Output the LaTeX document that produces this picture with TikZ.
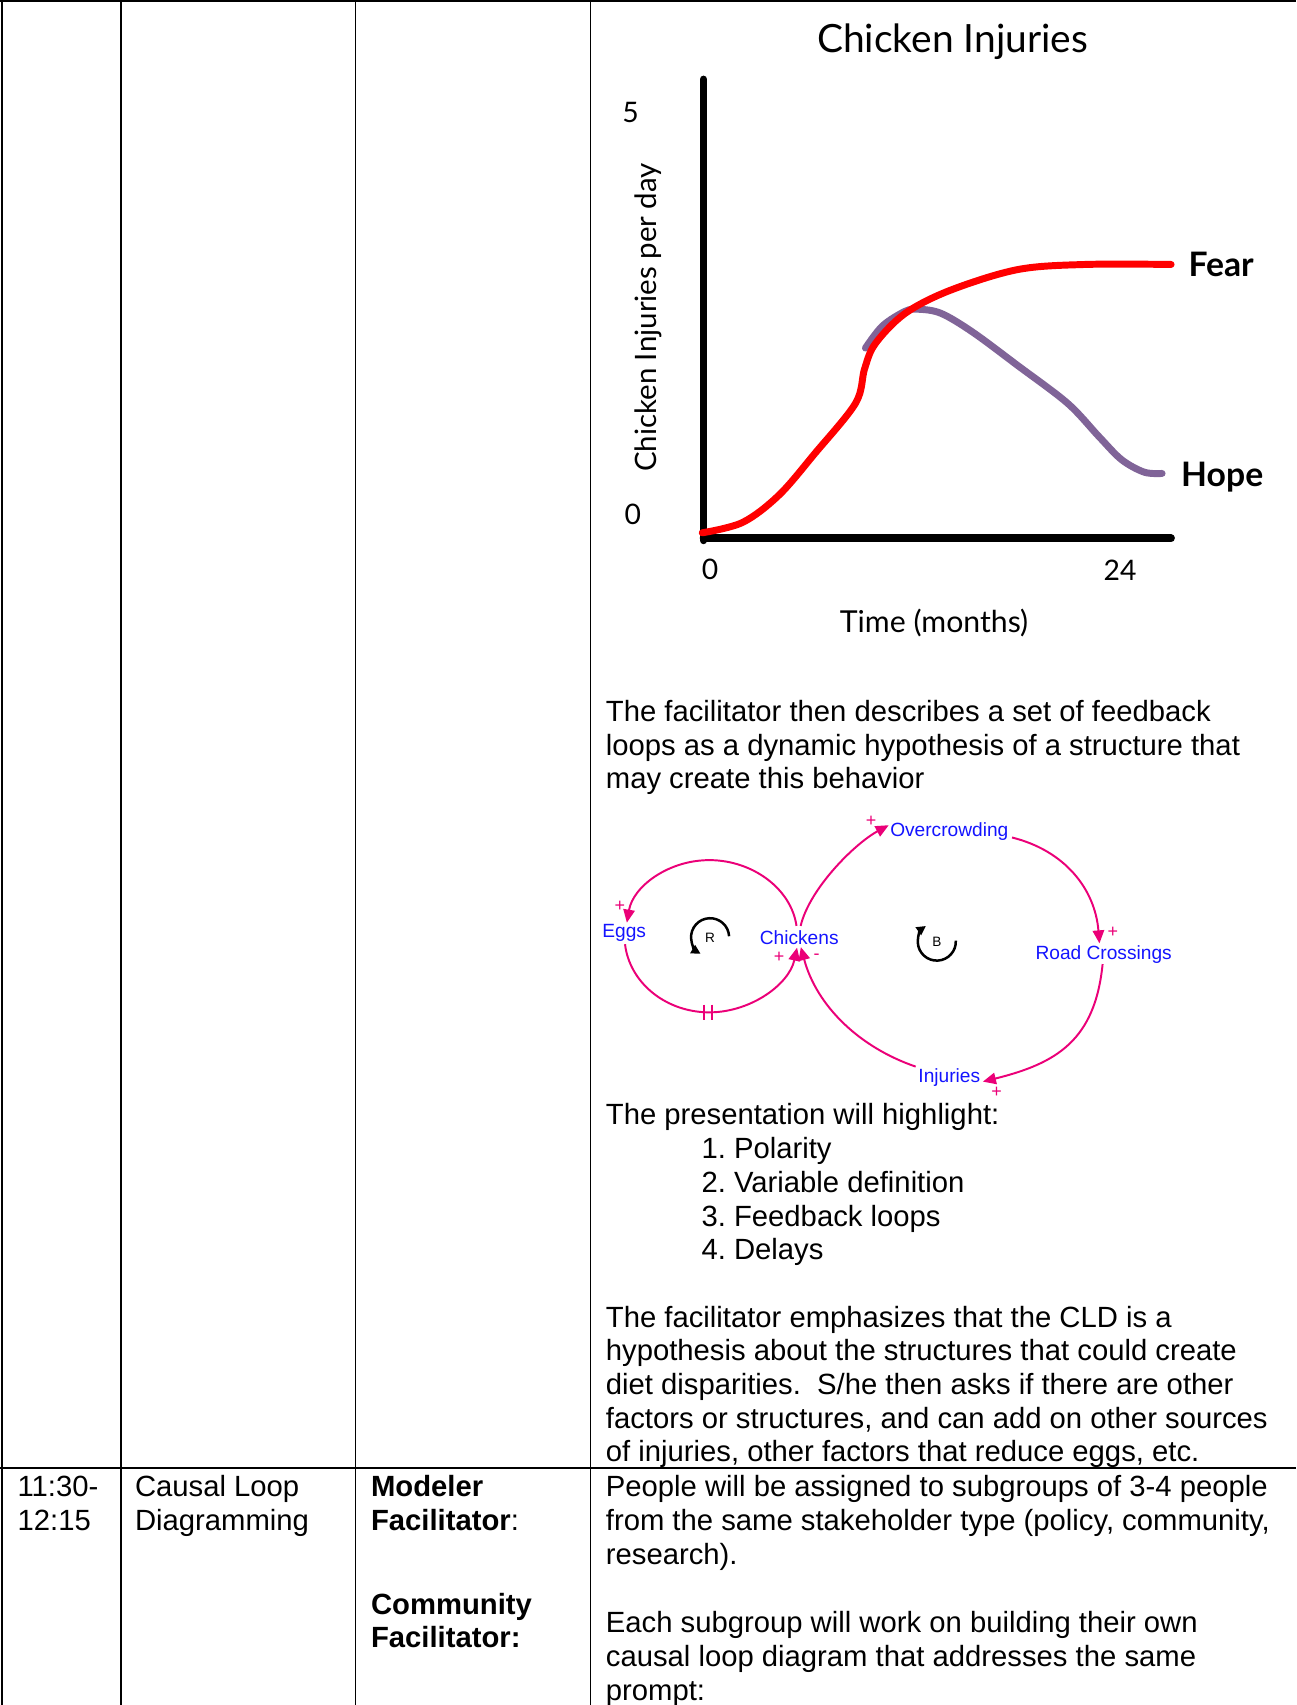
\documentclass[tikz,border=0pt]{standalone}
\usepackage{fontspec}
\setmainfont{Liberation Sans}
\newfontfamily\chartfont{Lato}
\usetikzlibrary{arrows.meta}
\definecolor{linkpink}{RGB}{235,0,120}
\definecolor{varblue}{RGB}{20,20,255}
\definecolor{hopepurple}{RGB}{128,100,152}
\definecolor{fearred}{RGB}{255,0,0}
\begin{document}
\begin{tikzpicture}[x=1pt,y=-1pt,
  body/.style={anchor=base west, inner sep=0pt, font=\fontsize{26.9}{31}\selectfont\frenchspacing},
  bodyb/.style={anchor=base west, inner sep=0pt, font=\fontsize{26.9}{31}\selectfont\bfseries\frenchspacing},
  rule/.style={line width=1.6pt, black},
  axis/.style={line width=7pt, line cap=round},
  chartlbl/.style={inner sep=0pt, font=\chartfont\fontsize{26}{30}\selectfont},
  chartbold/.style={inner sep=0pt, font=\chartfont\bfseries\fontsize{31}{34}\selectfont},
  var/.style={inner sep=0pt, text=varblue, font=\fontsize{17.6}{20}\selectfont},
  link/.style={draw=linkpink, line width=1.8pt, -{Triangle[length=12pt,width=10.5pt]}},
  pol/.style={inner sep=0pt, text=linkpink, font=\fontsize{16.5}{18}\selectfont},
  loopsym/.style={line width=2.3pt, -{Triangle[length=8.5pt,width=8.5pt]}},
  looplbl/.style={inner sep=0pt, font=\fontsize{12.5}{14}\selectfont},
]
\useasboundingbox[fill=white] (0,0) rectangle (1192,1568);

% table rules
\draw[rule] (0,1) -- (1192,1);
\draw[rule] (1.5,0) -- (1.5,1568);
\draw[rule] (111,0) -- (111,1568);
\draw[rule] (327,0) -- (327,1568);
\draw[rule] (543,0) -- (543,1568);
\draw[rule] (0,1350) -- (1192,1350);

% chart
\node[chartlbl, font=\chartfont\fontsize{35.8}{38}\selectfont] (title) at (876,38) {Chicken Injuries};
\node[chartlbl] (y5) at (580,103) {5};
\node[chartlbl] (y0) at (582,473) {0};
\node[chartlbl, rotate=90, font=\chartfont\fontsize{27.1}{30}\selectfont] (ylab) at (596,292) {Chicken Injuries per day};
\node[chartlbl] (x0) at (653,524) {0};
\node[chartlbl] (x24) at (1030,524) {24};
\node[chartlbl, font=\chartfont\fontsize{27.8}{30}\selectfont] (xlab) at (859,573) {Time (months)};
\node[chartbold] (fear) at (1123,243) {Fear};
\node[chartbold] (hope) at (1124,439) {Hope};
\draw[axis] (647,73) -- (647,497);
\draw[axis] (647,495) -- (1077,495);
\draw[hopepurple, line width=6.4pt, line cap=round] plot[smooth, tension=0.55] coordinates {
 (795.9,320.1) (811.6,299.7) (832.4,286.3) (844.8,284.4) (865.5,288.2) (894.6,305.5)
 (936,336.2) (981.7,370.8) (1010.7,401.6) (1031.4,422.7) (1052.2,434.2) (1068.7,435.4)};
\draw[fearred, line width=6.4pt, line cap=round] plot[smooth, tension=0.55] coordinates {
 (645.8,490) (683,480.4) (716.3,455.4) (749.4,417) (786.8,370.8) (795.1,339.2)
 (805,316) (832.4,288.2) (873.8,267) (936,247.9) (998.3,243.2) (1077,243.2)};

% body text, column 4
\node[body] (a1) at (557,663.5) {The facilitator then describes a set of feedback};
\node[body] (a2) at (557,694.5) {loops as a dynamic hypothesis of a structure that};
\node[body] (a3) at (557,725.5) {may create this behavior};
\node[body] (b1) at (557,1034.5) {The presentation will highlight:};
\node[body] (b2) at (645,1065.5) {1. Polarity};
\node[body] (b3) at (645,1096.5) {2. Variable definition};
\node[body] (b4) at (645,1127.5) {3. Feedback loops};
\node[body] (b5) at (645,1158.5) {4. Delays};
\node[body] (c1) at (557,1220.5) {The facilitator emphasizes that the CLD is a};
\node[body] (c2) at (557,1251.5) {hypothesis about the structures that could create};
\node[body] (c3) at (557,1282.5) {diet disparities.~~S/he then asks if there are other};
\node[body] (c4) at (557,1313.5) {factors or structures, and can add on other sources};
\node[body] (c5) at (557,1344.5) {of injuries, other factors that reduce eggs, etc.};
\node[body] (d1) at (557,1376.5) {People will be assigned to subgroups of 3-4 people};
\node[body] (d2) at (557,1407.5) {from the same stakeholder type (policy, community,};
\node[body] (d3) at (557,1438.5) {research).};
\node[body] (e1) at (557,1501.5) {Each subgroup will work on building their own};
\node[body] (e2) at (557,1532.5) {causal loop diagram that addresses the same};
\node[body] (e3) at (557,1563.5) {prompt:};

% columns 1-3
\node[body] (t1) at (16,1376.5) {11:30-};
\node[body] (t2) at (16,1407.5) {12:15};
\node[body] (s1) at (124,1376.5) {Causal Loop};
\node[body] (s2) at (124,1407.5) {Diagramming};
\node[bodyb] (f1) at (341,1376.5) {Modeler};
\node[body] (f2) at (341,1407.5) {\textbf{Facilitator}:};
\node[bodyb] (f3) at (341,1484.5) {Community};
\node[bodyb] (f4) at (341,1515.5) {Facilitator:};

% causal loop diagram
\node[var] (egg) at (574,858) {Eggs};
\node[var] (chk) at (735,862) {Chickens};
\node[var] (ovc) at (873,765) {Overcrowding};
\node[var] (road) at (1015,877.5) {Road Crossings};
\node[var] (inj) at (873,991) {Injuries};

\draw[link] ([shift={(-2.5,-10.5)}]chk.center) .. controls (727.5,817) and (692.12,791.61) .. (653.76,791.01)
  .. controls (615.40,790.41) and (582.25,814.93) .. ([shift={(2.5,-9.5)}]egg.center);
\draw[link] ([shift={(0.8,10.3)}]egg.center) .. controls (578.89,903.03) and (610.82,929.74) .. (649.68,930.96)
  .. controls (688.54,932.18) and (725.5,906) .. ([shift={(-2,9.5)}]chk.center);
\draw[linkpink, line width=1.8pt] (647.5,924) -- (647.5,938) (654.5,924) -- (654.5,938);
\draw[link] ([shift={(1.3,-10.5)}]chk.center) .. controls (744.5,817) and (786.2,775.7) .. ([shift={(-55.7,-6.1)}]ovc.center);
\draw[link] ([shift={(57.7,5.2)}]ovc.center) .. controls (979.2,782.2) and (1007.1,817.6) .. ([shift={(-3.9,-9.9)}]road.center);
\draw[link] ([shift={(-1,9.1)}]road.center) .. controls (1007,956.6) and (971.8,977.9) .. ([shift={(30.9,3.7)}]inj.center);
\draw[link] ([shift={(-30.9,-10.1)}]inj.center) .. controls (790.1,963.1) and (751,925) .. ([shift={(1.5,9)}]chk.center);

\node[pol] (p1) at (570,833.5) {+};
\node[pol] (p2) at (716.5,880) {+};
\node[pol] (p3) at (751,880) {-};
\node[pol] (p4) at (801,755) {+};
\node[pol] (p5) at (1023.5,857.5) {+};
\node[pol] (p6) at (916.5,1004.5) {+};

\node[looplbl] (lr) at (653,862) {R};
\draw[loopsym] (670.5,861) arc[start angle=3, end angle=240, radius=17.5pt];
\node[looplbl] (lb) at (861.5,866) {B};
\draw[loopsym] (879,865) arc[start angle=3, end angle=-235, radius=17.5pt];
\end{tikzpicture}
\end{document}
